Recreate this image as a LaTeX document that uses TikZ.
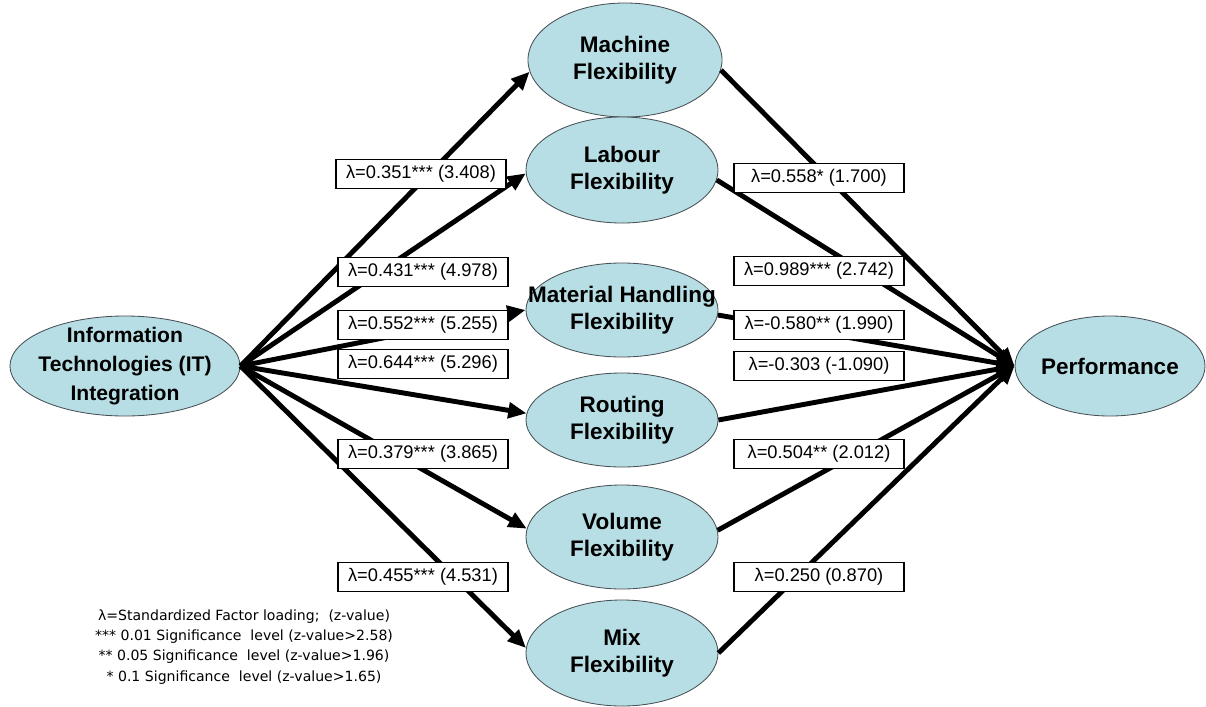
\documentclass[tikz,border=0pt]{standalone}
\usepackage{fontspec}
\setmainfont{Liberation Sans}
\newfontfamily\legendfont{DejaVu Sans}
\usetikzlibrary{shapes.geometric,arrows.meta}
\definecolor{flexfill}{RGB}{183,222,228}
\definecolor{flexedge}{RGB}{70,80,85}
\begin{document}
\begin{tikzpicture}[x=0.025cm,y=-0.025cm,
  latent/.style={ellipse, draw=flexedge, line width=0.6pt, fill=flexfill, inner sep=0pt, minimum width=4.8cm, minimum height=2.65cm},
  lbl/.style={font=\bfseries\fontsize{16}{19.5}\selectfont, align=center, inner sep=0pt},
  pathedge/.style={line width=3.5pt, -{Triangle[length=13pt,width=11pt]}},
  coef/.style={draw=black, fill=white, line width=0.8pt, minimum width=4.25cm, minimum height=0.72cm, inner sep=0pt, font=\fontsize{13}{15}\selectfont}
]
\useasboundingbox (0,0) rectangle (1206,706);

% latent variables
\node[latent, minimum width=5.75cm, minimum height=2.5cm, label={[lbl, font=\bfseries\fontsize{15}{20.5}\selectfont, name=ITt]center:Information\\Technologies (IT)\\Integration}] (IT) at (125,366) {};
\node[latent, minimum width=4.85cm, minimum height=2.85cm, label={[lbl, name=Mt]center:Machine\\Flexibility}] (M) at (625,60) {};
\node[latent, minimum height=2.65cm, label={[lbl, name=Lt]center:Labour\\Flexibility}] (L) at (622,170) {};
\node[latent, minimum height=2.35cm, label={[lbl, name=MHt]center:Material Handling\\Flexibility}] (MH) at (622,310) {};
\node[latent, minimum height=2.35cm, label={[lbl, name=Rt]center:Routing\\Flexibility}] (R) at (622,420) {};
\node[latent, minimum height=2.6cm, label={[lbl, name=Vt]center:Volume\\Flexibility}] (V) at (622,537) {};
\node[latent, minimum height=2.65cm, label={[lbl, name=Xt]center:Mix\\Flexibility}] (X) at (622,653) {};
\node[latent, minimum width=4.75cm, minimum height=2.5cm, label={[lbl, name=Pt]center:Performance}] (P) at (1110,366) {};

% paths IT -> flexibilities
\draw[pathedge] (IT.east) -- (M.187);
\draw[pathedge] (IT.east) -- (L.182);
\draw[pathedge] (IT.east) -- (MH.west);
\draw[pathedge] (IT.east) -- (R.176);
\draw[pathedge] (IT.east) -- (V.175);
\draw[pathedge] (IT.east) -- (X.177);

% paths flexibilities -> performance
\draw[pathedge] (M.-6) -- (P.west);
\draw[pathedge] (L.-6) -- (P.west);
\draw[pathedge] (MH.-3) -- (P.west);
\draw[pathedge] (R.east) -- (P.west);
\draw[pathedge] (V.4) -- (P.west);
\draw[pathedge] (X.east) -- (P.west);

% coefficient boxes
\node[coef] (c1) at (421,174) {λ=0.351*** (3.408)};
\node[coef] (c2) at (423,272) {λ=0.431*** (4.978)};
\node[coef] (c3) at (423,325) {λ=0.552*** (5.255)};
\node[coef] (c4) at (423,364) {λ=0.644*** (5.296)};
\node[coef] (c5) at (423,454) {λ=0.379*** (3.865)};
\node[coef] (c6) at (423,577) {λ=0.455*** (4.531)};
\node[coef] (d1) at (819,178) {λ=0.558* (1.700)};
\node[coef] (d2) at (819,271) {λ=0.989*** (2.742)};
\node[coef] (d3) at (819,325) {λ=-0.580** (1.990)};
\node[coef] (d4) at (819,366) {λ=-0.303 (-1.090)};
\node[coef] (d5) at (819,454) {λ=0.504** (2.012)};
\node[coef] (d6) at (819,577) {λ=0.250 (0.870)};

% legend
\node[align=center, inner sep=0pt, font=\legendfont\fontsize{10}{14.3}\selectfont] (legend) at (244,647)
  {λ=Standardized Factor loading;\ \ (z-value)\\
   *** 0.01 Significance\ \ level (z-value>2.58)\\
   ** 0.05 Significance\ \ level (z-value>1.96)\\
   * 0.1 Significance\ \ level (z-value>1.65)};
\end{tikzpicture}
\end{document}
